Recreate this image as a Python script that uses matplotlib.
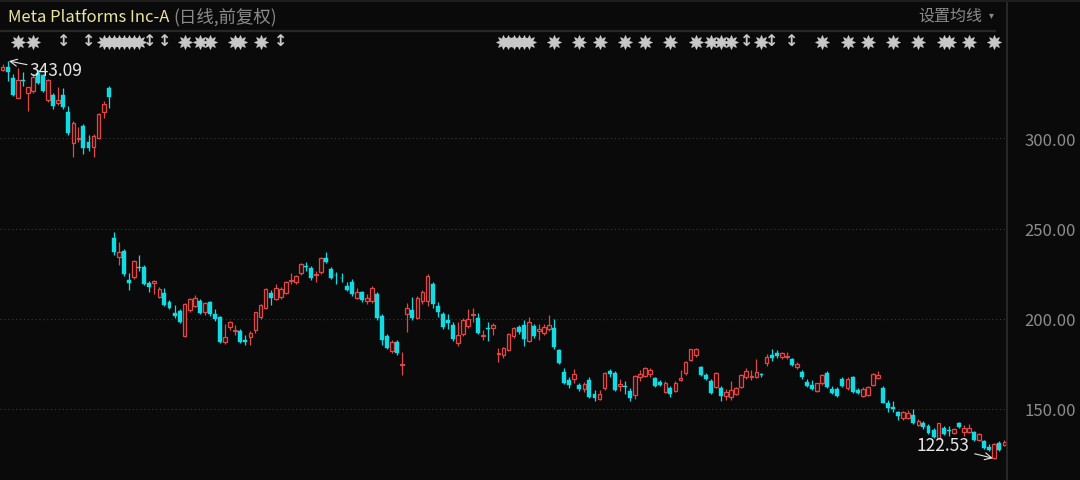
import matplotlib
matplotlib.use("Agg")
import matplotlib.pyplot as plt
from matplotlib.lines import Line2D

# ---------------- data ----------------
title = "Meta Platforms Inc-A"
subtitle = "(日线,前复权)"
ma_button = "设置均线"
y_ticks = [150, 200, 250, 300]
y_tick_labels = ["150.00", "200.00", "250.00", "300.00"]
high_label, high_day, high_value = "343.09", 1, 343.09
low_label, low_day, low_value = "122.53", 196, 122.53

opens = [338.2, 339.9, 333.4, 322.6, 332.7, 325.2, 326.3, 336.5, 335.0, 321.4,
         324.0, 319.8, 324.0, 314.9, 297.3, 299.5, 307.0, 297.9, 295.5, 300.1,
         314.5, 327.8, 244.7, 234.5, 237.6, 221.5, 223.4, 228.9, 228.9, 219.7,
         220.0, 212.3, 214.2, 209.5, 203.5, 204.3, 190.6, 204.9, 207.1, 209.9,
         204.0, 209.2, 202.5, 200.9, 187.3, 195.6, 193.5, 193.3, 188.0, 190.0,
         193.8, 201.2, 206.2, 214.5, 211.0, 212.3, 214.5, 221.0, 220.6, 225.3,
         229.2, 228.4, 224.2, 225.8, 233.9, 227.6, 224.5, 222.8, 218.4, 220.3,
         211.7, 214.7, 209.9, 209.9, 213.6, 201.7, 190.6, 182.2, 187.0, 174.6,
         202.5, 204.9, 200.6, 209.9, 209.9, 219.2, 207.3, 202.5, 199.4, 196.6,
         186.4, 191.4, 196.2, 202.0, 200.6, 190.6, 195.0, 194.7, 180.6, 180.0,
         182.7, 190.6, 195.3, 196.6, 187.9, 196.0, 193.5, 192.0, 194.2, 194.7,
         182.7, 170.7, 166.1, 166.5, 163.3, 161.0, 166.1, 158.3, 155.4, 161.5,
         171.2, 170.1, 162.5, 162.8, 160.2, 157.8, 168.0, 168.3, 169.4, 167.0,
         165.1, 159.6, 161.5, 160.2, 166.2, 169.8, 177.2, 180.0, 173.1, 168.9,
         165.7, 162.4, 161.5, 157.2, 156.9, 158.3, 162.4, 167.9, 167.5, 168.0,
         169.5, 175.3, 180.0, 181.3, 178.7, 179.0, 177.5, 173.1, 170.7, 165.1,
         163.3, 160.2, 164.2, 170.1, 161.0, 161.0, 166.5, 161.5, 167.6, 160.6,
         157.2, 157.8, 163.3, 167.0, 161.5, 153.5, 151.0, 148.3, 144.8, 145.0,
         146.7, 141.1, 142.4, 140.4, 138.6, 134.0, 139.3, 138.3, 136.9, 142.1,
         137.4, 137.4, 137.3, 132.6, 132.0, 129.1, 123.0, 131.3, 130.0]
highs = [341.1, 343.09, 335.8, 339.2, 337.0, 328.6, 336.0, 338.0, 336.0, 333.0,
         325.0, 328.3, 327.8, 318.2, 309.8, 306.5, 308.0, 302.0, 302.5, 314.0,
         321.0, 329.0, 248.0, 242.8, 238.5, 225.3, 232.8, 235.4, 230.0, 221.0,
         221.5, 217.5, 217.3, 210.5, 207.7, 205.5, 208.8, 211.5, 213.2, 211.0,
         209.5, 209.8, 205.5, 201.5, 197.0, 199.0, 196.5, 194.5, 191.0, 193.0,
         204.0, 208.5, 217.0, 216.0, 219.2, 217.5, 221.0, 225.3, 224.5, 231.0,
         231.4, 229.5, 226.5, 234.5, 236.9, 228.5, 225.8, 225.3, 220.6, 222.0,
         216.9, 215.5, 213.5, 218.0, 215.0, 202.5, 191.5, 188.5, 188.0, 181.4,
         208.6, 212.3, 212.5, 216.0, 224.7, 220.2, 209.5, 204.0, 202.5, 198.0,
         198.0, 200.5, 205.5, 206.2, 203.0, 194.0, 198.0, 197.5, 183.7, 184.5,
         192.0, 195.5, 196.5, 199.4, 200.9, 197.0, 197.2, 197.0, 202.0, 199.7,
         183.5, 172.6, 167.5, 172.0, 164.5, 165.0, 168.0, 160.6, 160.5, 170.5,
         172.0, 171.0, 166.5, 165.7, 161.5, 169.0, 171.7, 173.5, 172.5, 168.0,
         166.0, 165.5, 162.8, 165.5, 171.7, 176.5, 183.5, 184.0, 174.0, 170.0,
         166.5, 170.5, 162.5, 161.0, 165.7, 162.0, 169.5, 172.6, 171.7, 177.5,
         170.0, 180.5, 183.1, 182.5, 181.5, 181.5, 178.5, 176.0, 171.5, 166.5,
         166.0, 164.5, 169.5, 171.0, 162.5, 162.0, 168.0, 168.0, 168.5, 161.5,
         162.0, 163.0, 170.0, 171.3, 162.5, 155.0, 154.6, 149.0, 148.8, 149.5,
         149.8, 144.5, 143.5, 141.5, 139.5, 142.5, 140.5, 140.6, 139.5, 142.8,
         141.1, 141.5, 138.0, 136.5, 132.8, 130.5, 131.0, 132.0, 132.8]
lows = [337.2, 331.9, 323.8, 322.5, 328.9, 315.0, 325.5, 330.0, 325.8, 320.5,
        316.5, 318.8, 316.5, 302.0, 289.5, 298.0, 291.2, 293.0, 290.0, 299.5,
        311.5, 316.7, 235.4, 229.9, 224.0, 216.0, 222.0, 226.5, 218.5, 215.0,
        214.0, 211.5, 207.2, 205.2, 200.3, 197.5, 190.0, 204.0, 206.5, 202.5,
        202.0, 201.8, 198.8, 186.8, 185.8, 194.0, 190.8, 186.5, 185.5, 185.5,
        192.0, 200.0, 205.5, 207.7, 210.5, 211.0, 213.5, 219.2, 219.5, 224.5,
        226.5, 221.5, 220.5, 225.0, 230.8, 222.0, 219.2, 220.3, 215.4, 212.5,
        211.0, 209.5, 208.0, 209.0, 199.5, 185.5, 183.0, 181.0, 180.0, 168.9,
        192.9, 199.5, 199.8, 208.5, 207.3, 206.2, 201.2, 194.5, 194.2, 187.5,
        185.1, 190.5, 195.0, 198.4, 191.5, 188.3, 187.7, 191.0, 176.2, 178.5,
        182.0, 189.5, 191.5, 185.0, 187.0, 189.5, 188.3, 191.0, 193.5, 183.5,
        175.0, 164.0, 161.5, 164.2, 160.0, 159.5, 156.0, 154.5, 154.8, 160.5,
        168.0, 159.8, 160.2, 158.3, 154.5, 155.5, 165.8, 167.5, 167.5, 162.0,
        162.5, 159.0, 156.9, 159.5, 165.8, 169.0, 176.5, 179.0, 168.5, 166.0,
        158.5, 161.5, 154.5, 155.0, 155.0, 157.5, 161.5, 166.5, 166.2, 167.0,
        167.5, 174.0, 176.8, 178.5, 178.0, 177.5, 173.8, 172.0, 166.5, 162.0,
        160.5, 159.5, 163.5, 161.5, 158.5, 156.5, 162.0, 160.8, 159.0, 158.5,
        156.5, 157.0, 162.5, 166.5, 153.2, 148.5, 148.5, 144.0, 144.0, 144.5,
        141.5, 140.5, 139.0, 136.0, 133.8, 133.5, 135.5, 135.0, 136.0, 139.5,
        135.0, 136.5, 132.5, 132.0, 127.8, 126.5, 122.53, 126.5, 129.5]
closes = [339.4, 336.8, 324.2, 332.4, 331.8, 328.3, 334.3, 331.0, 326.2, 332.2,
          317.8, 321.5, 317.2, 303.2, 308.7, 300.2, 294.9, 294.9, 301.4, 313.4,
          319.1, 323.2, 237.2, 237.2, 224.7, 219.8, 232.1, 228.0, 219.2, 217.8,
          220.8, 216.5, 207.7, 206.2, 201.8, 198.0, 208.0, 210.8, 211.4, 203.4,
          208.6, 202.5, 200.0, 187.3, 190.0, 198.4, 194.0, 187.3, 187.0, 192.0,
          203.6, 207.7, 216.5, 211.4, 217.3, 216.5, 220.2, 221.6, 223.9, 230.2,
          228.9, 222.5, 224.7, 233.9, 231.7, 222.8, 224.2, 222.5, 216.0, 213.6,
          214.7, 210.4, 211.4, 217.3, 200.3, 188.3, 184.0, 187.0, 180.9, 175.0,
          205.8, 200.3, 211.4, 214.7, 223.9, 208.1, 204.0, 195.6, 197.5, 188.8,
          191.0, 199.4, 200.0, 202.8, 192.0, 191.2, 194.4, 196.6, 181.2, 183.7,
          191.4, 195.1, 192.9, 188.6, 198.4, 190.5, 194.2, 195.3, 196.6, 184.2,
          175.7, 164.6, 163.3, 169.4, 161.0, 163.9, 156.9, 156.0, 158.3, 170.1,
          169.4, 160.6, 163.9, 162.0, 156.0, 168.3, 169.2, 172.6, 171.7, 162.8,
          163.3, 164.6, 158.3, 164.6, 167.4, 175.9, 183.1, 183.4, 168.9, 166.5,
          159.1, 170.0, 157.0, 159.6, 160.6, 161.5, 168.9, 171.2, 168.5, 170.5,
          169.0, 178.9, 178.1, 179.4, 180.9, 179.6, 174.4, 175.0, 167.9, 162.8,
          161.0, 164.2, 168.9, 162.0, 159.1, 157.0, 162.8, 166.6, 159.6, 159.1,
          161.0, 162.0, 169.4, 168.9, 153.5, 150.5, 150.2, 146.0, 148.3, 148.0,
          142.3, 143.5, 140.0, 136.8, 134.4, 142.0, 136.1, 137.7, 138.8, 139.9,
          139.3, 139.5, 133.0, 136.1, 128.3, 127.2, 130.6, 127.0, 131.9]

# event markers above the candles (candle index)
star_days = [3, 6, 20, 21, 22, 23, 24, 25, 26, 27, 36, 39, 41, 46, 47, 51,
             99, 100, 101, 102, 103, 104, 109, 114, 118, 123, 127, 132, 137,
             140, 142, 144, 150, 162, 167, 171, 176, 181, 186, 187, 191, 196]
flag_days = [12, 17, 29, 32, 55, 147, 152, 156]

# ---------------- styling ----------------
BG = "#0a0a0a"
UP = "#e04848"
UP_FACE = "#2c0b0b"
DOWN = "#12dbe4"
GRID = "#3a3a3a"
LABEL = "#8c8c8c"
MARK = "#c8c8c8"
FONT = ["Noto Sans CJK SC", "DejaVu Sans"]
plt.rcParams["font.family"] = FONT

W, H = 1080, 480
fig = plt.figure(figsize=(W / 100, H / 100), dpi=100, facecolor=BG)

# plot area in pixels: x 0..1007, y 31..480 (from top)
ax_right_px = 1007
ax_top_px = 31
ax = fig.add_axes([0, 0, ax_right_px / W, (H - ax_top_px) / H])
ax.set_facecolor(BG)

ppu = 1.8033
y300 = 138.5
ax.set_ylim(300 - (H - y300) / ppu, 300 + (y300 - ax_top_px) / ppu)
# candle spacing 5.06 px, first candle centred at x=2.5
step = 5.06
x0 = 2.5
ax.set_xlim(-x0 / step, (ax_right_px - x0) / step)

for s in ax.spines.values():
    s.set_visible(False)
ax.set_xticks([])
ax.set_yticks([])

# grid
for t in y_ticks:
    ax.axhline(t, color=GRID, lw=0.8, ls=(0, (1, 2.5)), zorder=0)

# candles
n = len(closes)
for i in range(n):
    o, h, l, c = opens[i], highs[i], lows[i], closes[i]
    up = c >= o
    col = UP if up else DOWN
    ax.vlines(i, l, h, color=col, lw=0.9, zorder=2)
    lo_b = min(o, c)
    hgt = max(abs(c - o), 0.35)
    if up:
        ax.bar(i, hgt, bottom=lo_b, width=0.72, facecolor=UP_FACE,
               edgecolor=col, linewidth=0.9, zorder=3)
    else:
        ax.bar(i, hgt, bottom=lo_b, width=0.78, facecolor=col,
               edgecolor=col, linewidth=0.3, zorder=3)

# event markers
tr = ax.get_xaxis_transform()
mark_y = (H - 42) / (H - ax_top_px)
ax.plot(star_days, [mark_y] * len(star_days), ls="none", marker=(8, 1, 0),
        ms=10, color=MARK, mec=MARK, mew=0.6, transform=tr, clip_on=False, zorder=5)
for d in flag_days:
    ax.text(d, mark_y, "↕", transform=tr, ha="center", va="center",
            fontsize=11.5, fontweight="bold", color=MARK,
            family="DejaVu Sans", zorder=5)

# high / low annotations
ax.annotate(high_label, xy=(high_day, high_value), xytext=(16, -7),
            textcoords="offset points", ha="left", va="center",
            fontsize=12.5, color="#e6e6e6",
            arrowprops=dict(arrowstyle="->", color="#e6e6e6", lw=0.8,
                            shrinkA=0, shrinkB=1))
ax.annotate(low_label, xy=(low_day, low_value), xytext=(-18, 9),
            textcoords="offset points", ha="right", va="center",
            fontsize=12.5, color="#e6e6e6",
            arrowprops=dict(arrowstyle="->", color="#e6e6e6", lw=0.8,
                            shrinkA=2, shrinkB=1))

# right-side price labels
for t, lab in zip(y_ticks, y_tick_labels):
    ax.text(1050 / ax_right_px, t - 1.4, lab, transform=ax.get_yaxis_transform(),
            ha="center", va="center", fontsize=12, color=LABEL, clip_on=False)

# frame lines
fig.add_artist(Line2D([ax_right_px / W] * 2, [0, 1], color="#2e2e2e", lw=1.2))
fig.add_artist(Line2D([0, 995 / W], [1 - 31 / H] * 2, color="#262626", lw=1.6))
fig.add_artist(Line2D([0, 1], [1 - 1 / H] * 2, color="#1e1e1e", lw=1.5))

# header
fig.text(8 / W, 1 - 17 / H, title, ha="left", va="center", fontsize=12,
         color="#ece3a2")
fig.text(173 / W, 1 - 17 / H, subtitle, ha="left", va="center", fontsize=12.5,
         color="#8a8a8a")
fig.text(918 / W, 1 - 16 / H, ma_button, ha="left", va="center", fontsize=11.5,
         color="#8a8a8a")
fig.text(991 / W, 1 - 15 / H, "▾", ha="center", va="center", fontsize=7,
         color="#8a8a8a", family="DejaVu Sans")

fig.savefig("out.png", dpi=100, facecolor=BG)
